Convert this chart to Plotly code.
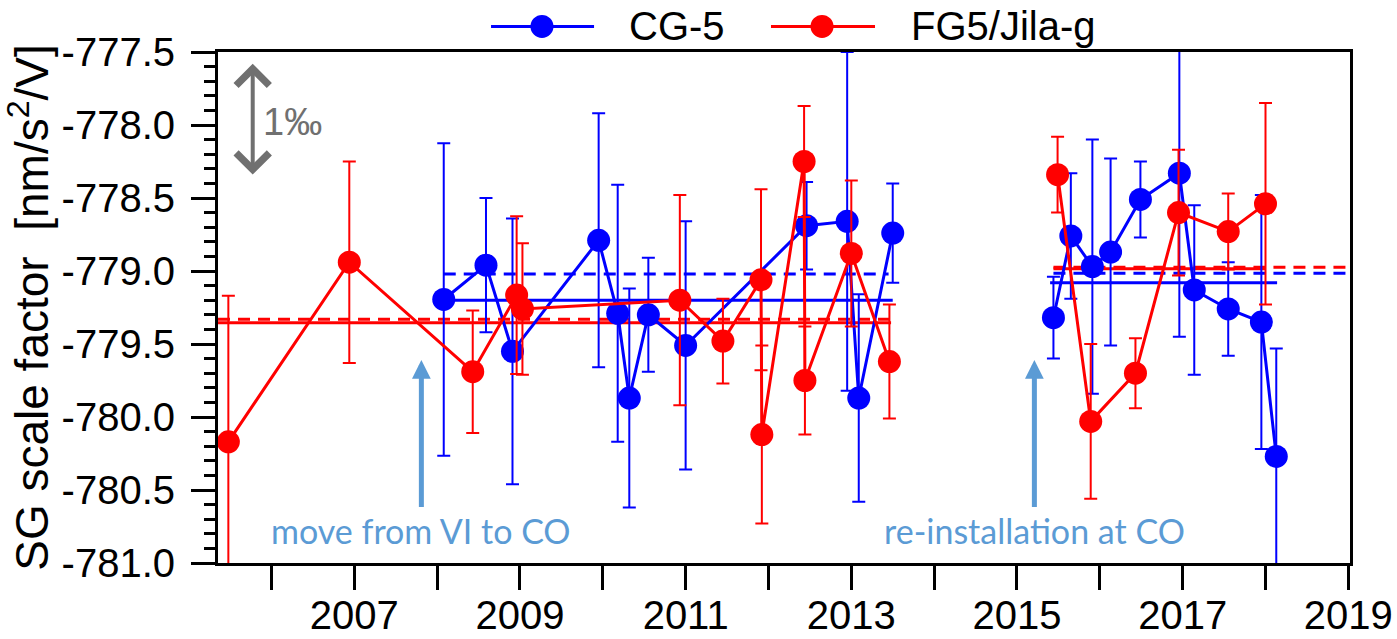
import plotly.graph_objects as go

# ---------------- data ----------------
cg5_year = [2008.08, 2008.59, 2008.91, 2009.95, 2010.18, 2010.32, 2010.55, 2011.00,
            2012.46, 2012.95, 2013.09, 2013.50, None,
            2015.44, 2015.65, 2015.91, 2016.13, 2016.49, 2016.96, 2017.14, 2017.55,
            2017.95, 2018.13]
cg5_val = [-779.195, -778.96, -779.55, -778.79, -779.29, -779.87, -779.30, -779.51,
           -778.69, -778.66, -779.87, -778.74, None,
           -779.32, -778.76, -778.97, -778.87, -778.51, -778.33, -779.13, -779.26,
           -779.35, -780.27]
cg5_err = [1.07, 0.46, 0.91, 0.87, 0.88, 0.75, 0.39, 0.85,
           0.30, 1.16, 0.71, 0.34, None,
           0.28, 0.43, 0.87, 0.64, 0.26, 1.12, 0.58, 0.32,
           0.87, 0.74]

fg5_year = [2005.48, 2006.94, 2008.43, 2008.96, 2009.03, 2010.93, 2011.45, 2011.91,
            2011.92, 2012.43, 2012.44, 2013.00, 2013.46, None,
            2015.49, 2015.89, 2016.43, 2016.95, 2017.55, 2018.00]
fg5_val = [-780.17, -778.94, -779.69, -779.165, -779.26, -779.20, -779.48, -779.06,
           -780.12, -778.25, -779.75, -778.88, -779.62, None,
           -778.34, -780.03, -779.70, -778.60, -778.73, -778.54]
fg5_err = [1.00, 0.69, 0.42, 0.54, 0.45, 0.72, 0.29, 0.62,
           0.61, 0.38, 0.37, 0.50, 0.39, None,
           0.26, 0.53, 0.24, 0.43, 0.26, 0.69]

# mean levels: [x_start, x_end, value]
cg5_mean_solid = [[2008.08, 2013.50, -779.20], [2015.40, 2018.14, -779.08]]
cg5_mean_dash = [[2008.08, 2013.45, -779.02], [2015.44, 2019.02, -779.015]]
fg5_mean_solid = [[2005.355, 2013.48, -779.354], [2015.44, 2018.00, -778.985]]
fg5_mean_dash = [[2005.355, 2013.48, -779.33], [2015.44, 2019.02, -778.975]]

x_tick_vals = list(range(2006, 2020))
x_tick_text = ["", "2007", "", "2009", "", "2011", "", "2013", "", "2015", "", "2017", "", "2019"]
y_tick_vals = [-781.0, -780.5, -780.0, -779.5, -779.0, -778.5, -778.0, -777.5]
y_tick_text = ["-781.0", "-780.5", "-780.0", "-779.5", "-779.0", "-778.5", "-778.0", "-777.5"]

BLUE = "#0000FF"
RED = "#FF0000"
NOTE = "#5B9BD5"
GRAY = "#707070"
FONT = "Liberation Sans, Arial, sans-serif"

fig = go.Figure()

# mean lines
for segs, col, dash in [(cg5_mean_solid, BLUE, "solid"), (cg5_mean_dash, BLUE, "12px,8px"),
                        (fg5_mean_solid, RED, "solid"), (fg5_mean_dash, RED, "12px,8px")]:
    for x0, x1, v in segs:
        fig.add_trace(go.Scatter(x=[x0, x1], y=[v, v], mode="lines",
                                 line=dict(color=col, width=3, dash=dash),
                                 showlegend=False, hoverinfo="skip", cliponaxis=True))

# data series
for xs, ys, es, col, name in [(cg5_year, cg5_val, cg5_err, BLUE, "CG-5"),
                              (fg5_year, fg5_val, fg5_err, RED, "FG5/Jila-g")]:
    fig.add_trace(go.Scatter(
        x=xs, y=ys, name=name, mode="lines+markers",
        line=dict(color=col, width=3),
        marker=dict(color=col, size=23, line=dict(width=0)),
        error_y=dict(type="data", array=es, visible=True, color=col, thickness=2, width=6.5),
        connectgaps=False, showlegend=False, cliponaxis=True))

# manual legend (long line symbols as in the original)
shapes = []
annotations = []
ly = 1.050
for xl0, xl1, xm, xt, col, name in [(0.2412, 0.3322, 0.2862, 0.3613, BLUE, "CG-5"),
                                    (0.4885, 0.5804, 0.5336, 0.6104, RED, "FG5/Jila-g")]:
    shapes.append(dict(type="line", xref="paper", yref="paper", x0=xl0, x1=xl1, y0=ly, y1=ly,
                       line=dict(color=col, width=3)))
    shapes.append(dict(type="circle", xref="paper", yref="paper", xsizemode="pixel",
                       ysizemode="pixel", xanchor=xm, yanchor=ly, x0=-11.5, x1=11.5,
                       y0=-11.5, y1=11.5, fillcolor=col, line=dict(width=0)))
    annotations.append(dict(xref="paper", yref="paper", x=xt, y=ly, text=name,
                            showarrow=False, xanchor="left", yanchor="middle",
                            font=dict(family=FONT, size=40, color="black")))

# event labels, each with its arrow pointing up from the text
NOTE_FONT = dict(family="Lato, Open Sans, sans-serif", size=34, color=NOTE)
for xa, label in [(2007.81, "move from VI to CO"), (2015.21, "re-installation at CO")]:
    annotations.append(dict(x=xa, y=-779.61, ax=xa, ay=-780.78, xref="x", yref="y",
                            axref="x", ayref="y", text=label, showarrow=True, arrowhead=2,
                            arrowwidth=5, arrowsize=0.75, arrowcolor=NOTE, font=NOTE_FONT,
                            standoff=0, startstandoff=2))

# 1 permille scale arrow
annotations.append(dict(x=2005.774, y=-777.58, ax=2005.774, ay=-778.35, xref="x", yref="y",
                        axref="x", ayref="y", text="", showarrow=True, arrowside="end+start",
                        arrowhead=4, startarrowhead=4, arrowwidth=4, arrowsize=1.6,
                        startarrowsize=1.6, arrowcolor=GRAY))
annotations.append(dict(x=2006.26, y=-777.976, xref="x", yref="y", text="1‰",
                        showarrow=False, xanchor="center", yanchor="middle",
                        font=dict(family=FONT, size=38, color=GRAY)))

fig.update_layout(
    width=1397, height=639,
    margin=dict(l=218, r=47, t=52, b=76, autoexpand=False),
    plot_bgcolor="white", paper_bgcolor="white",
    font=dict(family=FONT, size=40, color="black"),
    showlegend=False,
    shapes=shapes, annotations=annotations,
    xaxis=dict(range=[2005.355, 2019.02], showgrid=False, zeroline=False,
               showline=True, linewidth=3, linecolor="black", mirror=True,
               ticks="outside", ticklen=24, tickwidth=3, tickcolor="black",
               tickmode="array", tickvals=x_tick_vals, ticktext=x_tick_text,
               tickfont=dict(family=FONT, size=40, color="black"),
               ticklabelstandoff=-9),
    yaxis=dict(range=[-781.0, -777.5], showgrid=False, zeroline=False,
               showline=True, linewidth=3, linecolor="black", mirror=True,
               ticks="outside", ticklen=24, tickwidth=3, tickcolor="black",
               tickmode="array", tickvals=y_tick_vals, ticktext=y_tick_text,
               tickfont=dict(family=FONT, size=40, color="black"),
               ticklabelstandoff=8,
               minor=dict(ticks="outside", ticklen=11, tickwidth=3, tickcolor="black",
                          tickmode="linear", tick0=-781.0, dtick=0.1, showgrid=False),
               title=dict(text="SG scale factor\u00a0 [nm/s<sup>2</sup>/V]",
                          font=dict(family=FONT, size=46, color="black"), standoff=0)),
)

fig.write_html("out.html")
